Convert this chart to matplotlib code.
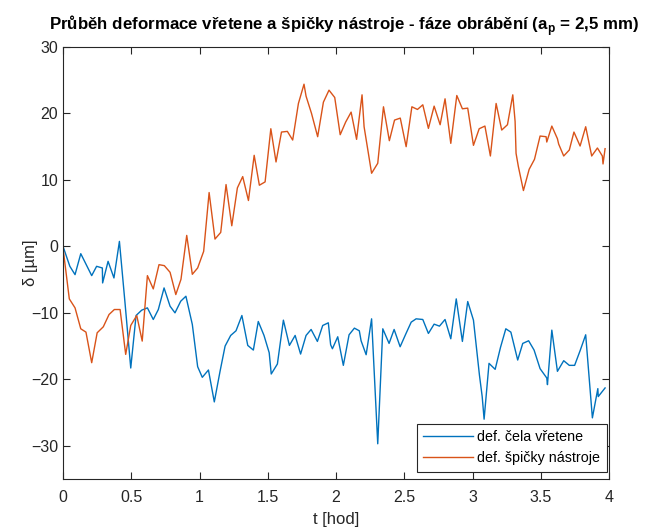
import matplotlib.pyplot as plt
import numpy as np

plt.rcParams['font.family'] = ['Liberation Sans', 'DejaVu Sans']
plt.rcParams['mathtext.fontset'] = 'custom'
plt.rcParams['mathtext.rm'] = 'Liberation Sans'
plt.rcParams['mathtext.bf'] = 'Liberation Sans:bold'

# def. cela vretene
t_cela = [0, 0.05, 0.088, 0.13, 0.21, 0.246, 0.288, 0.29, 0.33, 0.373, 0.413, 0.454, 0.496,
          0.535, 0.576, 0.618, 0.661, 0.698, 0.74, 0.784, 0.82, 0.862, 0.9, 0.947, 0.986,
          1.02, 1.065, 1.108, 1.15, 1.187, 1.228, 1.267, 1.31, 1.353, 1.394, 1.43, 1.472,
          1.51, 1.525, 1.57, 1.614, 1.658, 1.70, 1.74, 1.78, 1.817, 1.863, 1.902, 1.943,
          1.96, 1.973, 2.012, 2.053, 2.095, 2.134, 2.17, 2.183, 2.22, 2.26, 2.305, 2.342,
          2.388, 2.425, 2.469, 2.51, 2.55, 2.586, 2.635, 2.676, 2.718, 2.757, 2.798, 2.84,
          2.88, 2.925, 2.964, 3.006, 3.05, 3.07, 3.084, 3.12, 3.165, 3.204, 3.243, 3.28,
          3.33, 3.367, 3.41, 3.45, 3.494, 3.543, 3.548, 3.58, 3.621, 3.667, 3.708, 3.747,
          3.787, 3.828, 3.877, 3.917, 3.92, 3.97]
d_cela = [0, -3.0, -4.25, -1.1, -4.4, -3.0, -3.25, -5.5, -2.25, -4.75, 0.75, -8.5, -18.3,
          -10.4, -9.6, -9.25, -11.0, -9.5, -6.25, -9.0, -10.0, -8.25, -7.5, -11.75, -18.1,
          -19.7, -18.6, -23.4, -18.8, -15.0, -13.4, -12.7, -10.4, -14.9, -15.6, -11.3, -13.4,
          -16.0, -19.2, -17.7, -11.1, -14.9, -13.4, -16.2, -13.4, -12.5, -14.3, -11.9, -11.5,
          -14.8, -15.4, -13.6, -17.9, -13.3, -12.3, -12.7, -14.2, -16.3, -10.9, -29.7, -12.4,
          -14.6, -12.5, -15.1, -13.2, -11.4, -10.9, -11.0, -13.1, -11.7, -12.0, -11.0, -13.9,
          -7.9, -14.3, -8.3, -11.1, -19.4, -22.6, -26.0, -17.6, -18.5, -15.2, -12.4, -12.9,
          -17.1, -14.6, -14.2, -15.6, -18.4, -19.8, -20.8, -12.6, -18.8, -17.2, -17.9, -17.9,
          -15.7, -13.3, -25.8, -21.4, -22.6, -21.3]

# def. spicky nastroje
t_spicka = [0, 0.046, 0.088, 0.13, 0.168, 0.21, 0.25, 0.295, 0.337, 0.376, 0.418, 0.459,
            0.496, 0.54, 0.58, 0.618, 0.661, 0.703, 0.742, 0.784, 0.826, 0.864, 0.906,
            0.947, 0.986, 1.03, 1.07, 1.113, 1.155, 1.194, 1.236, 1.277, 1.316, 1.358, 1.4,
            1.438, 1.48, 1.522, 1.56, 1.6, 1.643, 1.682, 1.724, 1.765, 1.78, 1.82, 1.865,
            1.907, 1.948, 1.99, 2.03, 2.07, 2.11, 2.15, 2.19, 2.205, 2.26, 2.305, 2.347,
            2.39, 2.428, 2.47, 2.513, 2.555, 2.596, 2.635, 2.676, 2.718, 2.762, 2.798, 2.84,
            2.884, 2.925, 2.964, 3.006, 3.048, 3.09, 3.13, 3.172, 3.213, 3.255, 3.294, 3.311,
            3.318, 3.335, 3.372, 3.414, 3.453, 3.494, 3.538, 3.543, 3.58, 3.621, 3.63, 3.667,
            3.708, 3.742, 3.787, 3.828, 3.872, 3.914, 3.95, 3.955, 3.97]
d_spicka = [-0.25, -7.9, -9.25, -12.4, -12.9, -17.5, -13.0, -12.1, -10.25, -9.5, -9.5, -16.25,
            -11.9, -10.4, -14.25, -4.4, -6.4, -2.75, -2.9, -3.9, -7.25, -4.95, 1.65,
            -4.2, -3.25, -0.75, 8.1, 1.1, 2.1, 9.3, 3.1, 8.8, 10.5, 6.9, 13.7,
            9.2, 9.7, 17.7, 12.7, 17.2, 17.3, 16.0, 21.5, 24.4, 22.6, 20.0, 16.5,
            21.7, 23.5, 22.4, 16.8, 18.7, 20.2, 16.1, 22.8, 18.0, 11.0, 12.5, 21.0,
            15.9, 19.0, 19.3, 15.0, 21.0, 20.6, 21.3, 17.75, 21.1, 18.3, 22.2, 15.5,
            22.7, 20.7, 20.8, 15.2, 17.7, 18.1, 13.6, 21.5, 17.5, 18.3, 22.8, 18.8,
            14.0, 12.0, 8.4, 11.6, 13.1, 16.6, 16.5, 15.7, 18.1, 16.2, 15.4, 13.6,
            14.5, 17.2, 15.1, 18.0, 13.6, 14.8, 13.6, 12.4, 14.7]

fig = plt.figure(figsize=(6.62, 5.32), dpi=100)
ax = fig.add_axes([0.0952, 0.0996, 0.825, 0.8121])

ax.plot(t_cela, d_cela, color='#0072BD', lw=1.0, label='def. čela vřetene')
ax.plot(t_spicka, d_spicka, color='#D95319', lw=1.0, label='def. špičky nástroje')

ax.set_xlim(0, 4)
ax.set_ylim(-35, 30)
ax.set_xticks(np.arange(0, 4.01, 0.5))
ax.set_xticklabels(['0', '0.5', '1', '1.5', '2', '2.5', '3', '3.5', '4'])
ax.set_yticks(np.arange(-30, 31, 10))
ax.tick_params(direction='in', top=True, right=True, length=5, labelsize=11.5,
               colors='#262626', width=0.8)
ax.tick_params(axis='x', pad=8)
for s in ax.spines.values():
    s.set_color('#262626')
    s.set_linewidth(0.8)

ax.set_xlabel('t [hod]', fontsize=12, color='#262626', labelpad=5)
ax.set_ylabel('δ [µm]', fontsize=12, color='#262626')
ax.yaxis.set_label_coords(-0.045, 0.5)
ax.set_title(r'Průběh deformace vřetene a špičky nástroje - fáze obrábění (a$_\mathbf{p}$ = 2,5 mm)',
             fontsize=12.2, fontweight='bold', pad=12, x=0.515)

leg = ax.legend(loc='lower right', bbox_to_anchor=(0.9958, 0.017), borderaxespad=0,
                fontsize=10.3, fancybox=False, framealpha=1, edgecolor='#262626',
                handlelength=3.5, handletextpad=0.3, borderpad=0.45)
leg.get_frame().set_linewidth(0.8)

fig.savefig('out.png', dpi=100)
